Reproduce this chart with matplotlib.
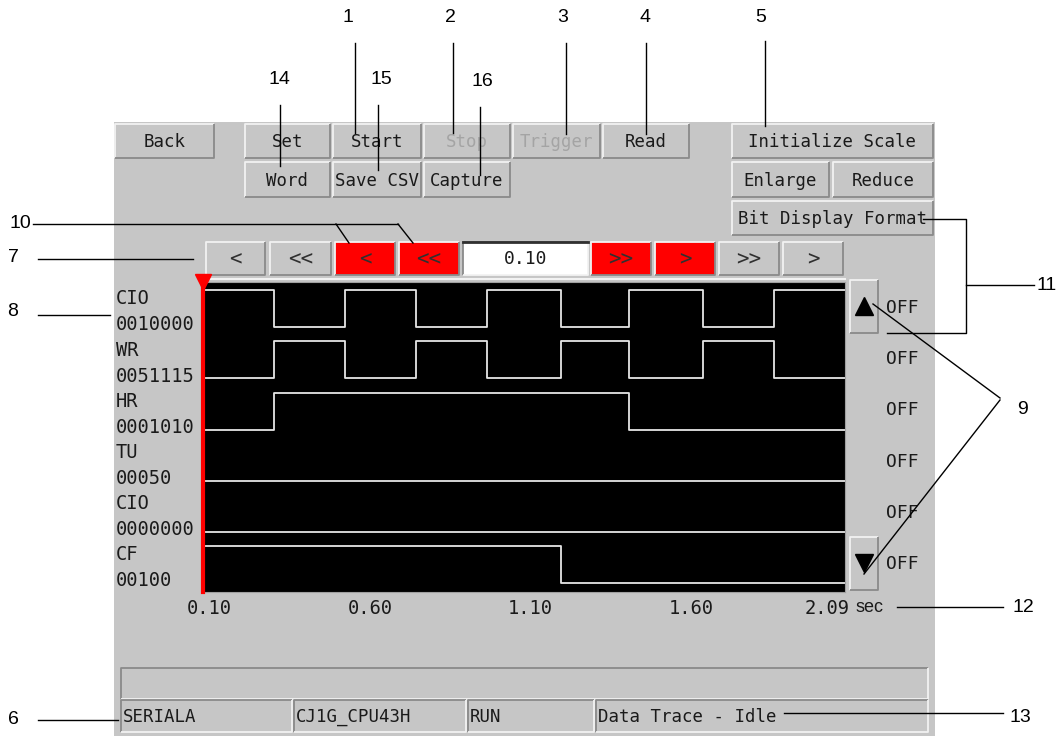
import numpy as np
import matplotlib.pyplot as plt
from matplotlib.patches import Rectangle
import matplotlib.transforms as mtransforms

W, H = 1064, 736
MONO = 'DejaVu Sans Mono'
SANS = 'Liberation Sans'

# ---- trace data (time in sec, bit level per interval, step "post") ----
t_edges = [0.10, 0.32, 0.54, 0.76, 0.98, 1.21, 1.42, 1.65, 1.87, 2.09]
sig_names = ["CIO", "WR", "HR", "TU", "CIO", "CF"]
sig_addrs = ["0010000", "0051115", "0001010", "00050", "0000000", "00100"]
cio_0010000 = [1, 0, 1, 0, 1, 0, 1, 0, 1, 1]
wr_0051115 = [0, 1, 0, 1, 0, 1, 0, 1, 0, 0]
hr_0001010 = [0, 1, 1, 1, 1, 1, 0, 0, 0, 0]
tu_00050 = [0, 0, 0, 0, 0, 0, 0, 0, 0, 0]
cio_0000000 = [0, 0, 0, 0, 0, 0, 0, 0, 0, 0]
cf_00100 = [1, 1, 1, 1, 1, 0, 0, 0, 0, 0]
signals = [cio_0010000, wr_0051115, hr_0001010, tu_00050, cio_0000000, cf_00100]
bit_state = ["OFF", "OFF", "OFF", "OFF", "OFF", "OFF"]
xtick_vals = [0.10, 0.60, 1.10, 1.60, 2.09]
cursor_t = 0.10
cursor_text = "0.10"

GRAY = '#c6c6c6'
LIGHT = '#f2f2f2'
DARK = '#8a8a8a'
TXT = '#1a1a1a'

fig = plt.figure(figsize=(W / 100, H / 100), dpi=100, facecolor='white')
ov = fig.add_axes([0, 0, 1, 1], zorder=0)
ov.set_xlim(0, W)
ov.set_ylim(H, 0)
ov.axis('off')


def button(x0, y0, x1, y1, label='', face=GRAY, color=TXT, size=12.5, sunken=False):
    ov.add_patch(Rectangle((x0, y0), x1 - x0, y1 - y0, facecolor=face, edgecolor='none', zorder=2))
    tl, br = (DARK, LIGHT) if sunken else (LIGHT, DARK)
    ov.plot([x0, x0, x1], [y1, y0, y0], color=tl, lw=1.3, zorder=3, solid_capstyle='butt')
    ov.plot([x0, x1, x1], [y1, y1, y0], color=br, lw=1.3, zorder=3, solid_capstyle='butt')
    if label:
        ov.text((x0 + x1) / 2, (y0 + y1) / 2 + 1, label, ha='center', va='center',
                family=MONO, fontsize=size, color=color, zorder=4)


# gray panel
ov.add_patch(Rectangle((114, 122), 935 - 114, H - 122, facecolor=GRAY, edgecolor='none', zorder=1))

# top buttons
button(115, 124, 214, 158, "Back")
button(245, 124, 330, 158, "Set")
button(333, 124, 421, 158, "Start")
button(424, 124, 510, 158, "Stop", color='#a4a4a4')
button(513, 124, 600, 158, "Trigger", color='#a4a4a4')
button(603, 124, 689, 158, "Read")
button(732, 124, 933, 158, "Initialize Scale")
button(245, 162, 330, 197, "Word")
button(333, 162, 421, 197, "Save CSV")
button(424, 162, 510, 197, "Capture")
button(732, 162, 829, 197, "Enlarge")
button(833, 162, 933, 197, "Reduce")
button(732, 201, 933, 235, "Bit Display Format")

# navigation row
nav = [(206, 265, "<", GRAY), (270, 331, "<<", GRAY), (335, 395, "<", '#ff0000'),
       (399, 459, "<<", '#ff0000'), (591, 651, ">>", '#ff0000'), (655, 715, ">", '#ff0000'),
       (719, 779, ">>", GRAY), (783, 843, ">", GRAY)]
for x0, x1, lab, fc in nav:
    button(x0, 242, x1, 275, lab, face=fc, color='#303030', size=15)
button(463, 242, 588, 275, cursor_text, face='white', sunken=True, size=13)
ov.plot([463, 588], [242, 242], color='#303030', lw=2, zorder=3)
ov.plot([203, 845], [279, 279], color=LIGHT, lw=1.5, zorder=3)

# scroll buttons and bit states
button(850, 280, 878, 333)
button(850, 537, 878, 590)
ov.plot([864], [306], marker='^', color='k', markersize=13, zorder=5)
ov.plot([864], [563], marker='v', color='k', markersize=13, zorder=5)
for i, s in enumerate(bit_state):
    ov.text(886, 308 + 51.2 * i, s, ha='left', va='center', family=MONO, fontsize=13, color=TXT, zorder=4)

# row labels
for i, (n, a) in enumerate(zip(sig_names, sig_addrs)):
    ov.text(116, 299 + 51.2 * i, n, ha='left', va='center', family=MONO, fontsize=13.5, color=TXT, zorder=4)
    ov.text(116, 325 + 51.2 * i, a, ha='left', va='center', family=MONO, fontsize=13.5, color=TXT, zorder=4)

ov.text(856, 608, "sec", ha='left', va='center', family=SANS, fontsize=13, color=TXT, zorder=4)

# status bar
button(121, 668, 928, 699, sunken=True)
cells = [(121, 292, "SERIALA"), (294, 466, "CJ1G_CPU43H"), (468, 594, "RUN"), (596, 928, "Data Trace - Idle")]
for x0, x1, lab in cells:
    button(x0, 700, x1, 732, sunken=True)
    ov.text(x0 + 2, 717, lab, ha='left', va='center', family=MONO, fontsize=12.5, color=TXT, zorder=4)

# ---- trace area ----
ax = fig.add_axes([203 / W, 1 - 592 / H, (845 - 203) / W, (592 - 282) / H], zorder=2)
ax.set_facecolor('black')
for i, lev in enumerate(signals):
    y = i + 0.88 - 0.72 * np.array(lev)
    ax.step(t_edges, y, where='post', color='#e6e6e6', lw=1.3)
ax.set_xlim(0.10, 2.09)
ax.set_ylim(6.05, 0)
ax.set_yticks([])
ax.set_xticks(xtick_vals, labels=["%.2f" % v for v in xtick_vals])
ax.tick_params(axis='x', length=0, pad=5, labelsize=13.5)
offs = [6, 6, 5, 4, -18]
for lab, dx in zip(ax.get_xticklabels(), offs):
    lab.set_family(MONO)
    lab.set_color(TXT)
    lab.set_transform(lab.get_transform() + mtransforms.ScaledTranslation(dx / 100, 0, fig.dpi_scale_trans))
for k, sp in ax.spines.items():
    sp.set_color('#a0a0a0')
ax.axvline(cursor_t, color='red', lw=3, clip_on=False, zorder=5)
ax.plot([cursor_t], [0], marker='v', color='red', markersize=11, clip_on=False, zorder=6)

# ---- callout numbers and leader lines ----
def callout(txt, tx, ty, segs):
    ov.text(tx, ty, txt, ha='center', va='center', family=SANS, fontsize=14, color='k', zorder=6)
    for xs, ys in segs:
        ov.plot(xs, ys, color='k', lw=1, zorder=6)


callout("1", 348, 18, [([355, 355], [43, 133])])
callout("2", 450, 18, [([453, 453], [43, 133])])
callout("3", 563, 18, [([566, 566], [43, 134])])
callout("4", 645, 18, [([646, 646], [43, 134])])
callout("5", 761, 17, [([765, 765], [41, 126])])
callout("14", 279, 80, [([280, 280], [105, 166])])
callout("15", 381, 80, [([378, 378], [105, 170])])
callout("16", 482, 82, [([480, 480], [107, 175])])
callout("10", 20, 224, [([33, 398], [224, 224]), ([336, 349], [224, 243]), ([398, 413], [224, 243])])
callout("7", 13, 258, [([38, 193], [259, 259])])
callout("8", 13, 312, [([38, 110], [315, 315])])
callout("11", 1047, 286, [([923, 966, 966, 887], [219, 219, 333, 333]), ([966, 1034], [285, 285])])
callout("9", 1023, 410, [([1000, 873], [398, 304]), ([1000, 864], [400, 574])])
callout("12", 1023, 608, [([897, 1003], [607, 607])])
callout("6", 13, 720, [([38, 118], [720, 720])])
callout("13", 1020, 717, [([784, 1003], [713, 713])])

fig.savefig("out.png", dpi=100, facecolor='white')
